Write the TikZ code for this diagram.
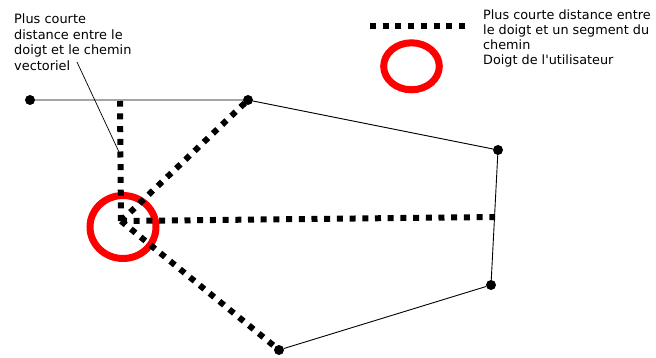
\documentclass[tikz,border=0pt]{standalone}
\usepackage{fontspec}
\setmainfont{DejaVu Sans}[Ligatures=TeXOff]
\begin{document}
\begin{tikzpicture}[x=1pt,y=-1pt,
  pt/.style={circle,fill=black,inner sep=0pt,minimum size=10pt},
  seg/.style={line width=0.9pt,black},
  dist/.style={line width=6pt,dash pattern=on 6pt off 6.7pt,black},
  finger/.style={draw=red,line width=7pt},
  lbl/.style={align=left,inner sep=0pt,anchor=north west}]
\useasboundingbox (0,0) rectangle (656,358);
% path points
\node[pt] (A) at (30,100) {};
\node[pt] (B) at (248,100) {};
\node[pt] (C) at (498,150) {};
\node[pt] (D) at (491,285) {};
\node[pt] (E) at (279,350) {};
\coordinate (F) at (121,221);
\coordinate (H) at (120,101);
\coordinate (P) at (495,217);
\draw[seg] (A) -- (B) -- (C) -- (D) -- (E);
% finger circle
\draw[finger] (123,227) ellipse [x radius=33, y radius=31.5];
% shortest distances
\draw[dist] (F) -- (H);
\draw[dist] (F) -- (B.center);
\draw[dist] (F) -- (P);
\draw[dist] (F) -- (E.center);
% annotation
\node[lbl,font=\fontsize{12.9}{15.6}\selectfont] (t1) at (14,13.5) {Plus courte\\distance entre le\\doigt et le chemin\\vectoriel};
\coordinate (L1) at (77,62);
\coordinate (L2) at (119,152);
\draw[line width=0.7pt] (L1) -- (L2);
% legend
\coordinate (G1) at (370,26);
\coordinate (G2) at (470,26);
\draw[dist] (G1) -- (G2);
\draw[finger] (411.5,66.3) ellipse [x radius=27.8, y radius=23.5];
\node[lbl,font=\fontsize{12.8}{15}\selectfont] (t2) at (483,9.2) {Plus courte distance entre\\le doigt et un segment du\\chemin\\Doigt de l'utilisateur};
\end{tikzpicture}
\end{document}
